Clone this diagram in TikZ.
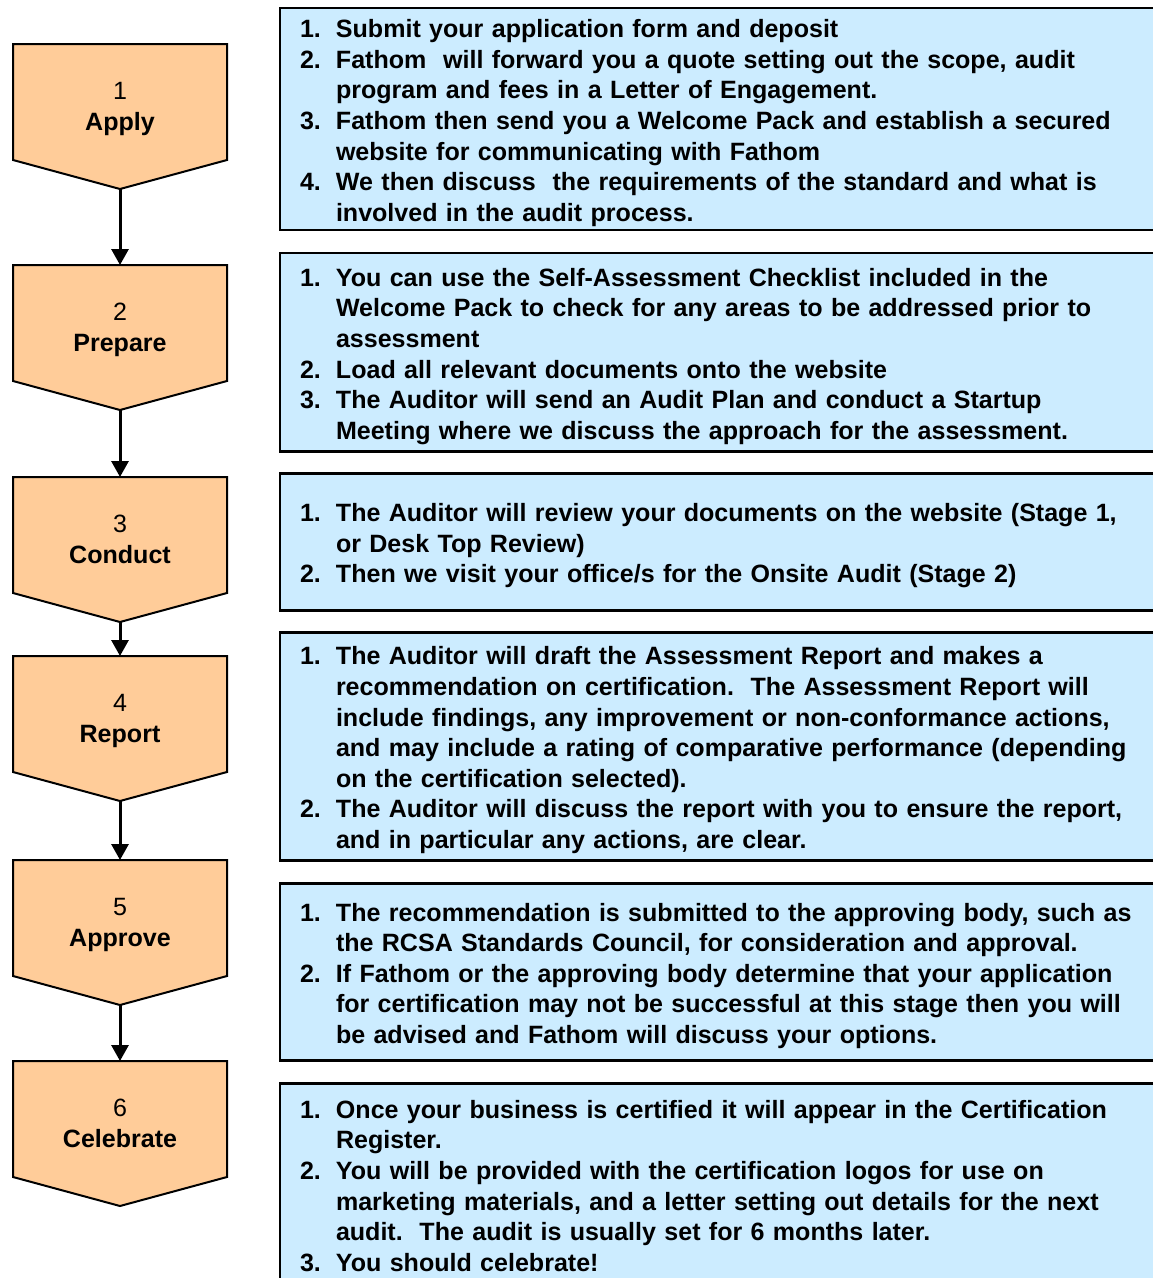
\documentclass[tikz,border=0pt]{standalone}
\usepackage{fontspec}
\setmainfont{Liberation Sans}
\usetikzlibrary{arrows.meta, positioning, calc}
\definecolor{stepfill}{RGB}{255, 204, 153}
\definecolor{infofill}{RGB}{204, 236, 255}
\newcommand{\itm}[1]{\makebox[16.2pt][l]{#1}}
\newcommand{\cnt}{\hspace*{16.2pt}}
\tikzset{
  stepshape/.style={draw=black, fill=stepfill, line width=0.9pt},
  steplabel/.style={align=center, font=\fontsize{11.27}{13.77}\selectfont, execute at end node={\rule[-2.4pt]{0pt}{0pt}}},
  infobox/.style={draw=black, fill=infofill, line width=1.1pt, anchor=north west, text width=392pt, align=left, inner xsep=9pt, inner ysep=1pt, outer sep=0pt, font=\fontsize{11.27}{13.77}\selectfont\bfseries,
    execute at begin node={\rule{0pt}{12.4pt}}, execute at end node={\rule[-3pt]{0pt}{0pt}}},
  flow/.style={-{Triangle[length=7.2pt, width=7.65pt]}, line width=1.35pt}
}

\begin{document}
\begin{tikzpicture}[x=0.45pt, y=-0.45pt]
  \useasboundingbox (0,0) rectangle (1153,1278);
  \clip (0,0) rectangle (1153,1278);

  \foreach \i/\t/\name in {1/44/Apply, 2/265/Prepare, 3/477/Conduct, 4/656/Report, 5/860/Approve, 6/1061/Celebrate} {
    \draw[stepshape] (13,\t) -- (227,\t) -- ++(0,116) -- ++(-107,29) -- ++(-107,-29) -- cycle;
    \coordinate (top\i) at (120,\t);
    \coordinate (tip\i) at (120,\t+145);
    \node[steplabel] (step\i) at (120,\t+65) {\i\\\textbf{\name}};
  }
  \foreach \i [evaluate=\i as \j using int(\i+1)] in {1,...,5}
    \draw[flow] (tip\i) -- (top\j);

  \node[infobox, minimum height=99.9pt] (info1) at (280,8) {
    \itm{1.}Submit your application form and deposit\\
    \itm{2.}Fathom\ \ will forward you a quote setting out the scope, audit\\
    \cnt program and fees in a Letter of Engagement.\\
    \itm{3.}Fathom then send you a Welcome Pack and establish a secured\\
    \cnt website for communicating with Fathom\\
    \itm{4.}We then discuss\ \ the requirements of the standard and what is\\
    \cnt involved in the audit process.
  };
  \node[infobox, minimum height=89.1pt, below=10.35pt of info1] (info2) {
    \itm{1.}You can use the Self-Assessment Checklist included in the\\
    \cnt Welcome Pack to check for any areas to be addressed prior to\\
    \cnt assessment\\
    \itm{2.}Load all relevant documents onto the website\\
    \itm{3.}The Auditor will send an Audit Plan and conduct a Startup\\
    \cnt Meeting where we discuss the approach for the assessment.
  };
  \node[infobox, minimum height=61.65pt, below=9.9pt of info2] (info3) {
    \itm{1.}The Auditor will review your documents on the website (Stage 1,\\
    \cnt or Desk Top Review)\\
    \itm{2.}Then we visit your office/s for the Onsite Audit (Stage 2)
  };
  \node[infobox, minimum height=102.6pt, below=9.9pt of info3] (info4) {
    \itm{1.}The Auditor will draft the Assessment Report and makes a\\
    \cnt recommendation on certification.\ \ The Assessment Report will\\
    \cnt include findings, any improvement or non-conformance actions,\\
    \cnt and may include a rating of comparative performance (depending\\
    \cnt on the certification selected).\\
    \itm{2.}The Auditor will discuss the report with you to ensure the report,\\
    \cnt and in particular any actions, are clear.
  };
  \node[infobox, minimum height=79.65pt, below=10.35pt of info4] (info5) {
    \itm{1.}The recommendation is submitted to the approving body, such as\\
    \cnt the RCSA Standards Council, for consideration and approval.\\
    \itm{2.}If Fathom or the approving body determine that your application\\
    \cnt for certification may not be successful at this stage then you will\\
    \cnt be advised and Fathom will discuss your options.
  };
  \node[infobox, minimum height=90.9pt, below=10.35pt of info5] (info6) {
    \itm{1.}Once your business is certified it will appear in the Certification\\
    \cnt Register.\\
    \itm{2.}You will be provided with the certification logos for use on\\
    \cnt marketing materials, and a letter setting out details for the next\\
    \cnt audit.\ \ The audit is usually set for 6 months later.\\
    \itm{3.}You should celebrate!
  };
\end{tikzpicture}
\end{document}
